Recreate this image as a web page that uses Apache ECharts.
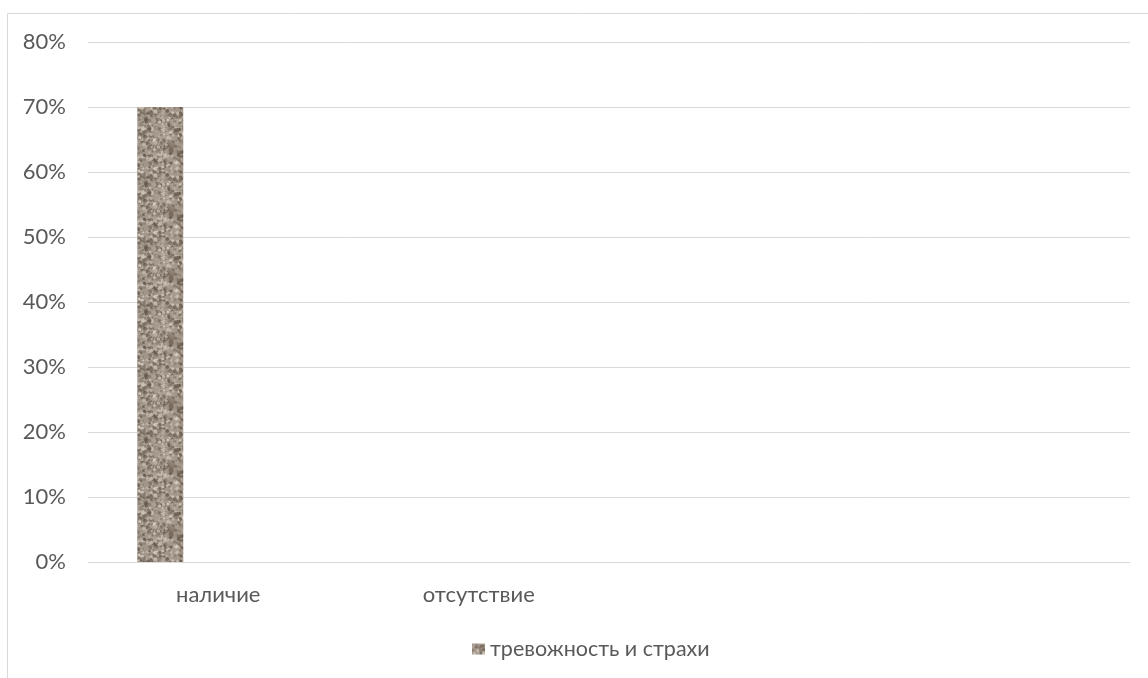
<!DOCTYPE html>
<html>
<head>
<meta charset="utf-8">
<script src="https://cdn.jsdelivr.net/npm/echarts@6/dist/echarts.min.js"></script>
<style>
  html, body { margin: 0; padding: 0; background: #fff; }
  #chart { width: 1148px; height: 678px; }
</style>
</head>
<body>
<div id="chart"></div>
<script>
// Chart data
const categories = ['наличие', 'отсутствие', '', ''];
const seriesName = 'тревожность и страхи';
const values = [70, 0, null, null];
const yTicks = [0, 10, 20, 30, 40, 50, 60, 70, 80];

// Granite-like fill texture for the bars (deterministic mottled speckle)
function makeTexture() {
  const size = 64;
  const src = document.createElement('canvas');
  src.width = size; src.height = size;
  const sctx = src.getContext('2d');
  sctx.fillStyle = '#a2968a';
  sctx.fillRect(0, 0, size, size);
  let s = 24681;
  const rnd = () => { s = (s * 1103515245 + 12345) & 0x7fffffff; return s / 0x7fffffff; };
  const tones = ['#706356', '#827467', '#c8bdb1', '#d9d0c6', '#938679', '#b6aa9d', '#62564b', '#ab9f93'];
  for (let i = 0; i < 1100; i++) {
    const x = rnd() * size;
    const y = rnd() * size;
    const r = 0.6 + rnd() * 1.5;
    sctx.fillStyle = tones[Math.floor(rnd() * tones.length)];
    sctx.globalAlpha = 0.45 + rnd() * 0.45;
    // draw wrapped so the tile repeats seamlessly
    for (const dx of [-size, 0, size]) {
      for (const dy of [-size, 0, size]) {
        sctx.beginPath();
        sctx.arc(x + dx, y + dy, r, 0, Math.PI * 2);
        sctx.fill();
      }
    }
  }
  sctx.globalAlpha = 1;
  const c = document.createElement('canvas');
  c.width = size; c.height = size;
  const ctx = c.getContext('2d');
  ctx.filter = 'blur(0.7px)';
  for (const dx of [-size, 0, size]) {
    for (const dy of [-size, 0, size]) {
      ctx.drawImage(src, dx, dy);
    }
  }
  return c;
}
const texture = makeTexture();

const chart = echarts.init(document.getElementById('chart'), null, { renderer: 'canvas' });
const font = 'Lato, "Liberation Sans", Arial, sans-serif';
const textColor = '#595959';

chart.setOption({
  animation: false,
  textStyle: { fontFamily: font },
  graphic: [{
    type: 'rect',
    shape: { x: 7.5, y: 13.5, width: 1200, height: 700 },
    style: { fill: 'none', stroke: '#d9d9d9', lineWidth: 1 },
    silent: true,
    z: -1
  }],
  grid: {
    left: 88, right: 18, top: 42, bottom: 116,
    containLabel: false,
    outerBoundsMode: 'none'
  },
  legend: {
    data: [seriesName],
    left: 467,
    top: 633,
    itemWidth: 13,
    itemHeight: 11,
    itemGap: 5,
    icon: 'rect',
    textStyle: { fontSize: 21.5, color: textColor, fontFamily: font }
  },
  xAxis: {
    type: 'category',
    data: categories,
    axisLine: { show: true, lineStyle: { color: '#d9d9d9', width: 1 } },
    axisTick: { show: false },
    axisLabel: { color: textColor, fontSize: 22, margin: 22, fontFamily: font }
  },
  yAxis: {
    type: 'value',
    min: yTicks[0],
    max: yTicks[yTicks.length - 1],
    interval: 10,
    axisLine: { show: false },
    axisTick: { show: false },
    splitLine: { lineStyle: { color: '#d9d9d9', width: 1 } },
    axisLabel: {
      color: textColor, fontSize: 22, margin: 22, fontFamily: font,
      formatter: v => v + '%'
    }
  },
  series: [
    {
      name: seriesName,
      type: 'bar',
      data: values,
      barWidth: 46,
      barGap: '152%',
      itemStyle: { color: { image: texture, repeat: 'repeat' } }
    },
    {
      name: 'spacer',
      type: 'bar',
      data: [null, null, null, null],
      barWidth: 46,
      silent: true
    }
  ]
});
</script>
</body>
</html>
